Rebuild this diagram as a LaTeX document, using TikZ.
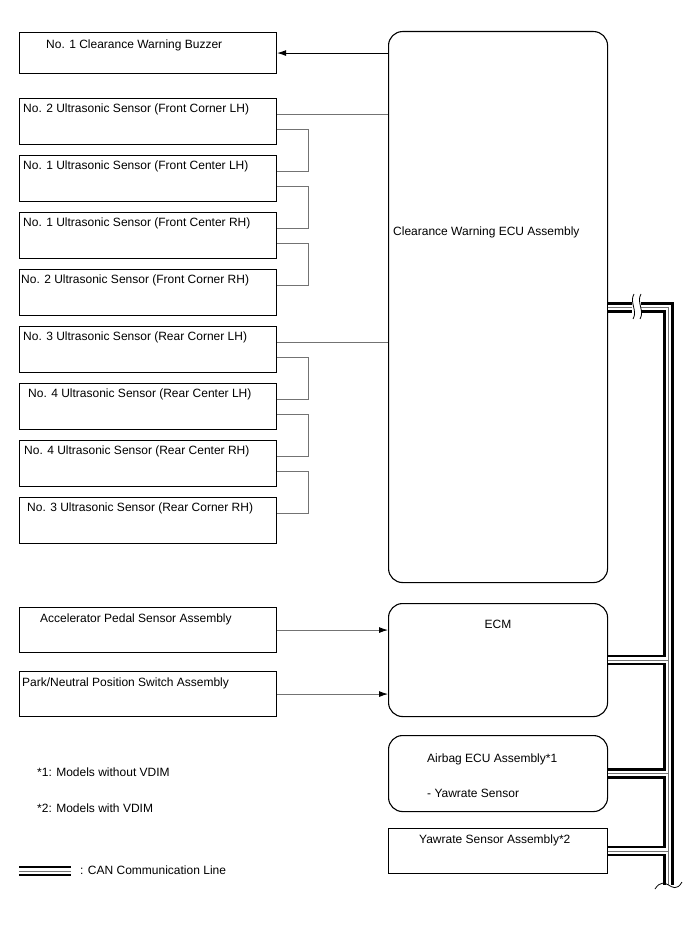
\documentclass[tikz,border=0pt]{standalone}
\usepackage{fontspec}
\setmainfont{Liberation Sans}
\usetikzlibrary{arrows.meta, positioning, calc}

\begin{document}
\begin{tikzpicture}[
    x=1pt, y=-1pt,
    every node/.style={font=\fontsize{12}{14}\selectfont},
    sbox/.style={draw, line width=1.1pt, anchor=north west, inner sep=0pt, minimum width=257pt, minimum height=46pt},
    ecubox/.style={draw, line width=1.1pt, anchor=north west, inner sep=0pt, minimum width=219pt, rounded corners=14pt},
    intext/.style={anchor=north west, inner sep=0pt},
    plain/.style={anchor=west, inner sep=0pt},
    wire/.style={black!55, line width=0.9pt},
    feed/.style={-{Latex[length=9pt, width=6pt, color=black]}, line width=0.9pt},
    can/.style={line width=10.5pt, postaction={draw, white, line width=5.5pt}, postaction={draw, black!55, line width=0.7pt}}
  ]
    \useasboundingbox (0,0) rectangle (688,949);

    % Main ECU and the buzzer it drives
    \node[ecubox, minimum height=551pt, label={[intext, xshift=5pt, yshift=-196pt]north west:Clearance Warning ECU Assembly}] (ecu) at (388,31) {};
    \node[sbox, minimum height=41pt, label={[intext, xshift=27pt, yshift=-8pt]north west:No. 1 Clearance Warning Buzzer}] (buz) at (19,32) {};
    \draw[feed] (buz.east -| ecu.west) -- (buz.east);

    % Ultrasonic sensors (front 1-4, rear 5-8)
    \foreach \i/\txt/\dx in {
      1/{No. 2 Ultrasonic Sensor (Front Corner LH)}/4,
      2/{No. 1 Ultrasonic Sensor (Front Center LH)}/4,
      3/{No. 1 Ultrasonic Sensor (Front Center RH)}/4,
      4/{No. 2 Ultrasonic Sensor (Front Corner RH)}/2,
      5/{No. 3 Ultrasonic Sensor (Rear Corner LH)}/4,
      6/{No. 4 Ultrasonic Sensor (Rear Center LH)}/9,
      7/{No. 4 Ultrasonic Sensor (Rear Center RH)}/5,
      8/{No. 3 Ultrasonic Sensor (Rear Corner RH)}/8} {
      \node[sbox, label={[intext, xshift=\dx pt, yshift=-6pt]north west:\txt}] (s\i) at (19, {98+57*(\i-1)}) {};
    }

    % Sensor chains: first sensor of each group to the ECU, then daisy-chained
    \draw[wire] ([yshift=7pt]s1.east) -- ([yshift=7pt]s1.east -| ecu.west);
    \draw[wire] ([yshift=7pt]s5.east) -- ([yshift=7pt]s5.east -| ecu.west);
    \foreach \i/\j in {1/2, 2/3, 3/4, 5/6, 6/7, 7/8} {
      \draw[wire] ([yshift=-8pt]s\i.east) -- ++(31,0) |- ([yshift=7pt]s\j.east);
    }

    % Engine side
    \node[ecubox, minimum height=113pt, label={[anchor=north, inner sep=0pt, yshift=-17pt]north:ECM}] (ecm) at (388,603) {};
    \node[sbox, minimum height=45pt, label={[intext, xshift=21pt, yshift=-7pt]north west:Accelerator Pedal Sensor Assembly}] (acc) at (19,607) {};
    \node[sbox, minimum height=45pt, label={[intext, xshift=3pt, yshift=-7pt]north west:Park/Neutral Position Switch Assembly}] (pnp) at (19,671) {};
    \draw[feed, black!55] (acc.east) -- (acc.east -| ecm.west);
    \draw[feed, black!55] (pnp.east) -- (pnp.east -| ecm.west);

    % Yaw rate sources
    \node[ecubox, minimum height=76pt,
      label={[intext, xshift=39pt, yshift=-19pt]north west:Airbag ECU Assembly*1},
      label={[intext, xshift=39pt, yshift=-54pt]north west:- Yawrate Sensor}] (abg) at (388,735) {};
    \node[sbox, minimum width=219pt, minimum height=45pt, label={[intext, xshift=31pt, yshift=-7pt]north west:Yawrate Sensor Assembly*2}] (yaw) at (388,828) {};

    % CAN bus
    \coordinate (ctop) at (668.5,307.5);
    \coordinate (cbot) at (668.5,885);
    \draw[can] (ctop -| ecu.east) -- (ctop) -- (cbot)
      (ecm.east) -- (ecm.east -| ctop)
      (abg.east) -- (abg.east -| ctop)
      (yaw.east) -- (yaw.east -| ctop);
    % break marks
    \fill[white] (632,298) rectangle (641,317);
    \draw[line width=0.8pt] (634,294) .. controls (629,302) and (638,311) .. (633,319);
    \draw[line width=0.8pt] (641,294) .. controls (636,302) and (645,311) .. (640,319);
    \draw[line width=0.8pt] (655,889) .. controls (660,881) and (665,883) .. (668.5,885) .. controls (672,887) and (677,891) .. (682,882);

    % Notes and legend
    \node[plain] (fn1) at (37,772) {*1: Models without VDIM};
    \node[plain] (fn2) at (37,808) {*2: Models with VDIM};
    \draw[can] (19,871) -- (71,871);
    \node[plain] (canlbl) at (80,870) {: CAN Communication Line};

\end{tikzpicture}
\end{document}
